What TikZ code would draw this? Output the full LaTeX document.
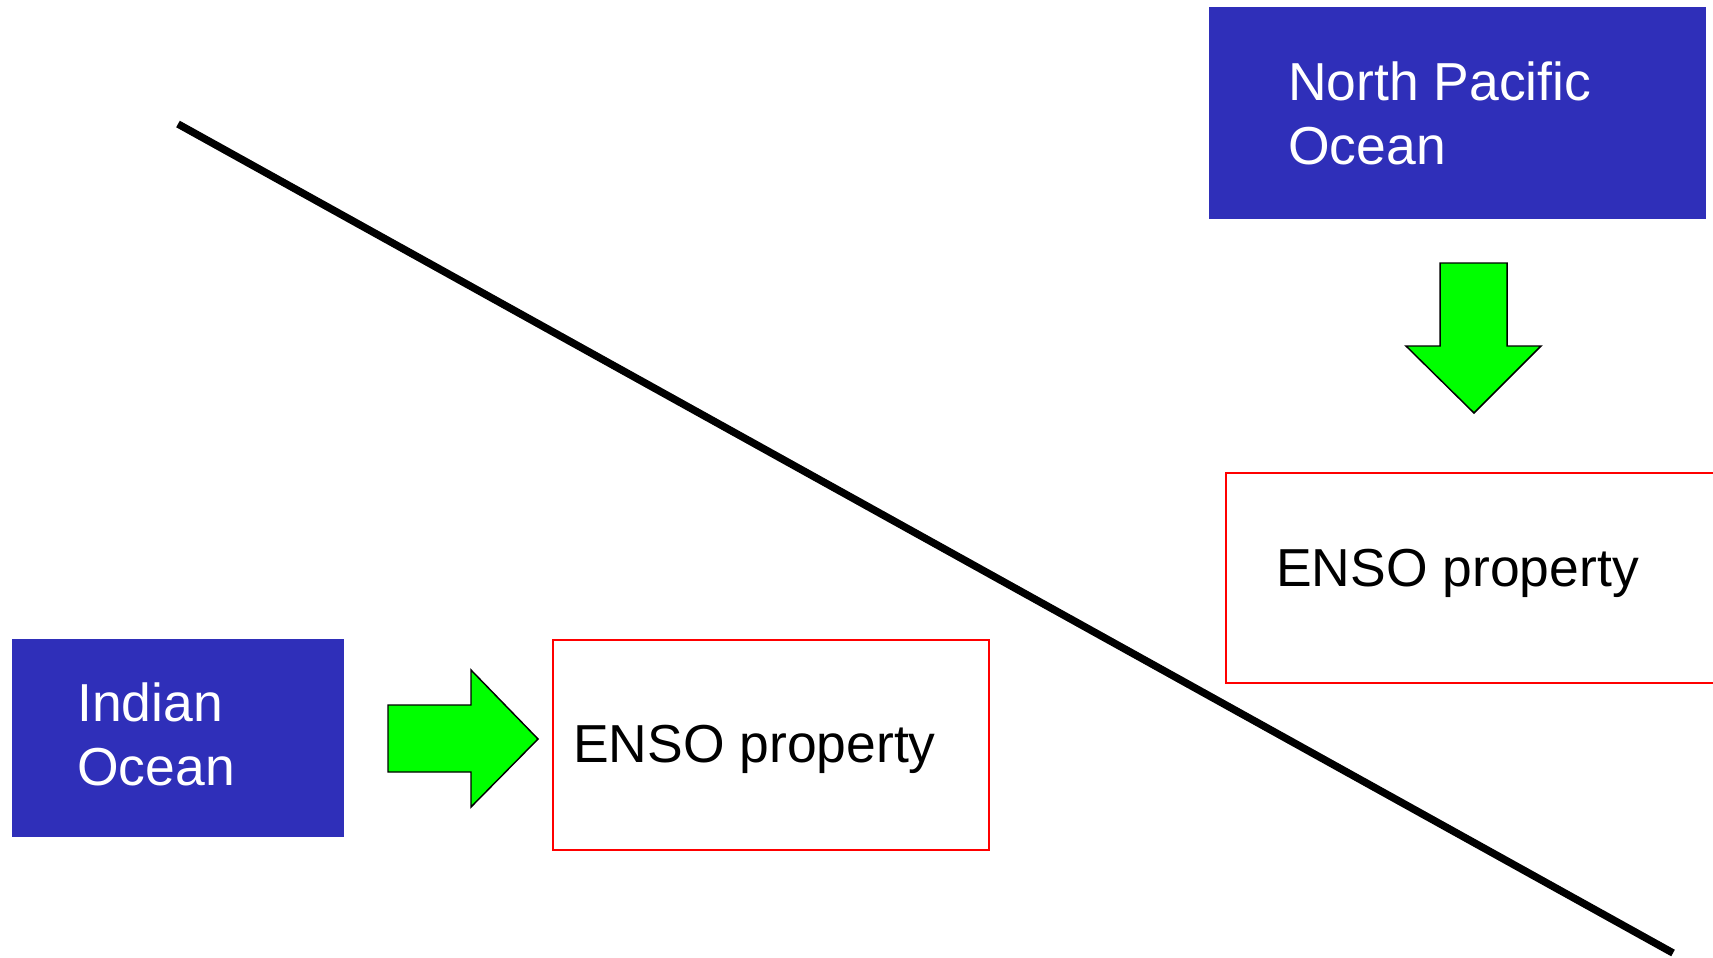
\documentclass[tikz,border=0pt]{standalone}
\usepackage{fontspec}
\setmainfont{Liberation Sans}
\usetikzlibrary{fit}
\definecolor{oceanblue}{RGB}{47,47,185}
\definecolor{arrowgreen}{RGB}{0,255,0}
\begin{document}
\begin{tikzpicture}[x=0.75pt,y=-0.75pt,
  oceanbox/.style={fill=oceanblue, draw=none, inner sep=0pt},
  ensobox/.style={draw=red, line width=1.3pt, inner sep=0pt},
  bigtext/.style={font=\fontsize{40.1}{48}\selectfont, inner sep=0pt, anchor=base west, align=left},
  fatarrow/.style={fill=arrowgreen, draw=black, line width=1.1pt, line join=miter}]
\useasboundingbox[fill=white] (0,0) rectangle (1713,957);
% diagonal line
\coordinate (ls) at (178,124);
\coordinate (le) at (1673,953);
\draw[line width=5.6pt] (ls) -- (le);
% boxes
\node[oceanbox, fit={(1209,7) (1706,219)}] (np) {};
\node[oceanbox, fit={(12,639) (344,837)}] (io) {};
\node[ensobox, fill=white, fit={(1226,473) (1730,683)}] (ensor) {};
\node[ensobox, fill=white, fit={(553,640) (989,850)}] (ensol) {};
% texts (base anchor = last line)
\node[bigtext, text=white] (nptext) at (1288,164) {North Pacific\\Ocean};
\node[bigtext, text=white] (iotext) at (77,785) {Indian\\Ocean};
\node[bigtext] (ensortext) at (1276,586) {ENSO property};
\node[bigtext] (ensoltext) at (573,762) {ENSO property};
% down arrow
\draw[fatarrow] (1440,263) -- (1507,263) -- (1507,346) -- (1541,346) -- (1474,413)
  -- (1406,346) -- (1440,346) -- cycle;
% right arrow
\draw[fatarrow] (388,705) -- (471,705) -- (471,670) -- (538,739) -- (471,807)
  -- (471,772) -- (388,772) -- cycle;
\end{tikzpicture}
\end{document}
